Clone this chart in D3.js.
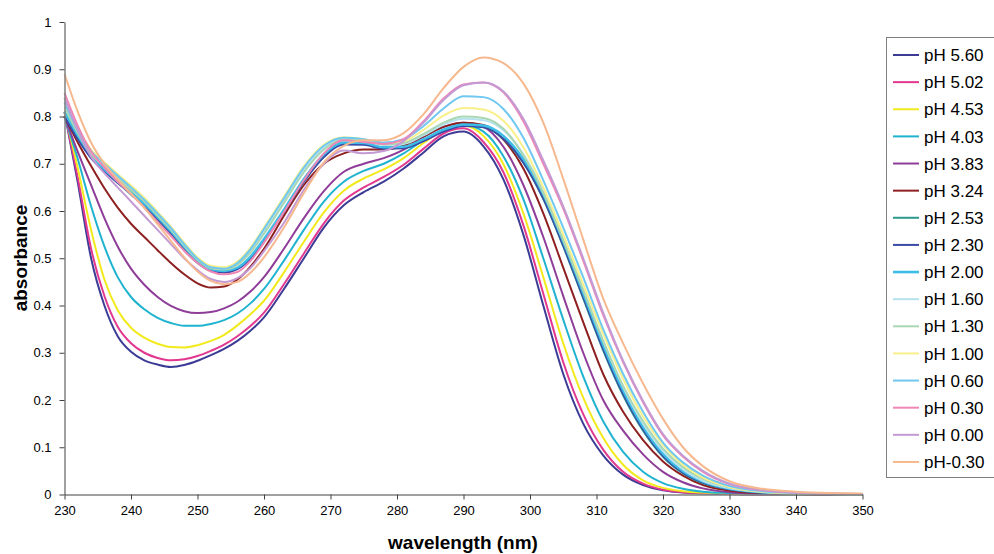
<!DOCTYPE html>
<html>
<head>
<meta charset="utf-8">
<script src="https://cdn.jsdelivr.net/npm/d3@7"></script>
<style>
  html, body { margin: 0; padding: 0; background: #fff; }
  svg { display: block; font-family: "Liberation Sans", Arial, sans-serif; }
</style>
</head>
<body>
<svg id="chart" width="994" height="554"></svg>
<script>
// ---------- data ----------
const wavelengths = [230,232,234,236,238,240,242,244,246,248,250,252,254,256,258,260,263,266,269,272,275,278,281,284,287,290,293,296,299,302,305,308,311,314,317,320,323,326,330,335,340,345,350];

const seriesNames = ["pH 5.60","pH 5.02","pH 4.53","pH 4.03","pH 3.83","pH 3.24","pH 2.53","pH 2.30","pH 2.00","pH 1.60","pH 1.30","pH 1.00","pH 0.60","pH 0.30","pH 0.00","pH-0.30"];

const pH560 = [.81,.66,.50,.40,.335,.302,.284,.275,.270,.274,.283,.295,.308,.325,.347,.375,.435,.50,.565,.612,.64,.662,.69,.724,.758,.768,.737,.667,.55,.40,.255,.15,.083,.042,.02,.009,.004,.002,.001,0,0,0,0];
const pH502 = [.81,.67,.52,.42,.355,.32,.30,.289,.284,.286,.293,.304,.317,.335,.357,.385,.445,.51,.574,.622,.65,.672,.698,.732,.764,.775,.746,.682,.57,.425,.28,.17,.095,.048,.023,.01,.005,.003,.001,0,0,0,0];
const pH453 = [.81,.69,.56,.455,.39,.353,.332,.319,.312,.311,.316,.325,.338,.358,.382,.41,.47,.535,.597,.643,.669,.688,.712,.744,.771,.781,.759,.699,.595,.46,.32,.205,.12,.063,.03,.014,.007,.004,.002,.001,0,0,0];
const pH403 = [.80,.71,.61,.525,.46,.418,.392,.374,.363,.357,.357,.361,.369,.383,.405,.435,.495,.56,.62,.662,.685,.70,.722,.75,.772,.782,.768,.716,.625,.50,.37,.25,.155,.09,.048,.024,.012,.006,.003,.001,0,0,0];
const pH383 = [.80,.725,.655,.585,.525,.478,.444,.418,.399,.388,.384,.386,.394,.408,.43,.46,.52,.585,.642,.683,.70,.712,.73,.757,.778,.787,.778,.736,.655,.545,.42,.30,.20,.135,.085,.048,.026,.013,.005,.002,.001,0,0];
const pH324 = [.80,.745,.695,.648,.607,.573,.545,.517,.49,.466,.447,.438,.44,.455,.483,.52,.59,.655,.70,.722,.73,.73,.738,.758,.778,.787,.782,.751,.69,.595,.48,.365,.255,.175,.115,.07,.04,.02,.008,.003,.001,0,0];
const pH253 = [.80,.755,.715,.685,.66,.635,.61,.58,.55,.517,.49,.473,.47,.478,.502,.538,.60,.663,.715,.742,.742,.733,.734,.75,.77,.782,.778,.753,.702,.625,.525,.415,.305,.21,.135,.08,.045,.024,.011,.004,.002,.001,0];
const pH230 = [.80,.752,.712,.684,.66,.637,.612,.583,.553,.52,.492,.474,.47,.477,.5,.536,.598,.662,.714,.741,.74,.732,.733,.748,.768,.78,.777,.753,.703,.627,.527,.418,.308,.213,.138,.082,.046,.025,.011,.004,.002,.001,0];
const pH200 = [.81,.76,.718,.688,.663,.64,.615,.587,.557,.524,.495,.477,.473,.48,.504,.541,.603,.668,.72,.745,.744,.735,.736,.752,.772,.783,.781,.759,.71,.635,.535,.426,.316,.22,.143,.086,.049,.027,.012,.005,.002,.001,0];
const pH160 = [.83,.77,.725,.698,.673,.648,.622,.593,.562,.528,.498,.48,.477,.487,.515,.555,.62,.685,.733,.753,.75,.74,.742,.76,.783,.795,.792,.771,.72,.643,.543,.435,.325,.228,.15,.092,.053,.029,.013,.005,.002,.001,0];
const pH130 = [.82,.765,.72,.694,.67,.645,.62,.59,.56,.527,.497,.479,.476,.486,.513,.552,.617,.682,.73,.752,.75,.741,.744,.763,.787,.80,.797,.774,.718,.638,.538,.432,.325,.23,.155,.097,.058,.033,.015,.006,.002,.001,0];
const pH100 = [.83,.775,.73,.703,.678,.654,.628,.598,.567,.533,.502,.484,.481,.493,.523,.565,.63,.695,.74,.756,.752,.744,.748,.772,.802,.818,.815,.791,.735,.65,.55,.445,.34,.245,.165,.105,.063,.036,.016,.006,.002,.001,0];
const pH060 = [.83,.772,.727,.70,.675,.65,.624,.595,.564,.53,.499,.481,.478,.49,.52,.562,.627,.692,.738,.755,.752,.745,.752,.78,.817,.843,.841,.816,.755,.665,.565,.46,.35,.255,.175,.11,.068,.04,.018,.007,.003,.001,0];
const pH030 = [.85,.78,.726,.692,.662,.636,.607,.577,.547,.516,.49,.472,.466,.471,.495,.533,.598,.665,.722,.75,.746,.742,.752,.79,.838,.868,.872,.851,.79,.70,.605,.495,.38,.28,.195,.125,.08,.048,.022,.009,.004,.002,.001];
const pH000 = [.84,.77,.715,.68,.65,.62,.59,.56,.53,.50,.475,.456,.45,.458,.48,.515,.575,.645,.70,.728,.722,.727,.748,.787,.835,.866,.872,.853,.795,.707,.61,.50,.385,.283,.198,.128,.082,.05,.023,.01,.004,.002,.001];
const pHm030 = [.89,.81,.745,.70,.667,.637,.607,.572,.537,.502,.472,.452,.445,.45,.47,.502,.565,.638,.703,.738,.75,.75,.765,.805,.86,.905,.925,.913,.87,.787,.668,.54,.415,.32,.235,.16,.10,.06,.028,.012,.006,.003,.002];

const seriesValues = [pH560,pH502,pH453,pH403,pH383,pH324,pH253,pH230,pH200,pH160,pH130,pH100,pH060,pH030,pH000,pHm030];
const seriesColors = ["#3c3c96","#e2388f","#f2ea1c","#1fb3cf","#8e3d98","#8e2020","#2a9a8c","#3a4aa6","#3cbde8","#b5e2ef","#a9d7b3","#f9f08a","#70c8f0","#ef86b5","#c39ad4","#f6b88e"];

const xTicks = [230,240,250,260,270,280,290,300,310,320,330,340,350];
const yTicks = [0,0.1,0.2,0.3,0.4,0.5,0.6,0.7,0.8,0.9,1];
const yTickLabels = ["0","0.1","0.2","0.3","0.4","0.5","0.6","0.7","0.8","0.9","1"];

// ---------- chart ----------
const svg = d3.select("#chart");
const x = d3.scaleLinear().domain([230, 350]).range([64.5, 862.5]);
const y = d3.scaleLinear().domain([0, 1]).range([494.5, 22]);

svg.append("rect").attr("width", 994).attr("height", 554).attr("fill", "#fff");

// lines
const line = d3.line()
  .x((d, i) => x(wavelengths[i]))
  .y(d => y(d))
  .curve(d3.curveMonotoneX);

svg.append("g").selectAll("path")
  .data(seriesValues)
  .join("path")
  .attr("d", d => line(d))
  .attr("fill", "none")
  .attr("stroke", (d, i) => seriesColors[i])
  .attr("stroke-width", (d, i) => i === 8 ? 2.4 : 2)
  .attr("stroke-linejoin", "round");

// axes
const yAxis = svg.append("g")
  .attr("transform", "translate(64.5,0)")
  .call(d3.axisLeft(y).tickValues(yTicks).tickFormat((d, i) => yTickLabels[i]).tickSize(5).tickPadding(8).tickSizeOuter(0));
const xAxis = svg.append("g")
  .attr("transform", "translate(0,494.5)")
  .call(d3.axisBottom(x).tickValues(xTicks).tickFormat(d => String(d)).tickSize(5).tickPadding(6).tickSizeOuter(0));

[yAxis, xAxis].forEach(g => {
  g.select(".domain").attr("stroke", "#808080").attr("stroke-width", 1.5);
  g.selectAll(".tick line").attr("stroke", "#404040");
  g.selectAll(".tick text").attr("fill", "#000").style("font-size", "13px").style("font-family", "'Liberation Sans', Arial, sans-serif");
});

// axis titles
svg.append("text")
  .attr("x", 463).attr("y", 549)
  .attr("text-anchor", "middle")
  .style("font-size", "19px").style("font-weight", "bold")
  .text("wavelength (nm)");

svg.append("text")
  .attr("transform", "translate(27,258) rotate(-90)")
  .attr("text-anchor", "middle")
  .style("font-size", "19px").style("font-weight", "bold")
  .text("absorbance");

// legend
const legend = svg.append("g");
legend.append("rect")
  .attr("x", 886.5).attr("y", 37.5).attr("width", 130).attr("height", 440)
  .attr("fill", "#fff").attr("stroke", "#808080").attr("stroke-width", 1);

const items = legend.selectAll("g.item")
  .data(seriesNames)
  .join("g")
  .attr("class", "item")
  .attr("transform", (d, i) => `translate(0,${55 + i * 27.13})`);

items.append("line")
  .attr("x1", 893).attr("x2", 919)
  .attr("stroke", (d, i) => seriesColors[i])
  .attr("stroke-width", (d, i) => i === 8 ? 2.6 : 2);

items.append("text")
  .attr("x", 924).attr("dy", "0.36em")
  .style("font-size", "17px")
  .text(d => d);
</script>
</body>
</html>
